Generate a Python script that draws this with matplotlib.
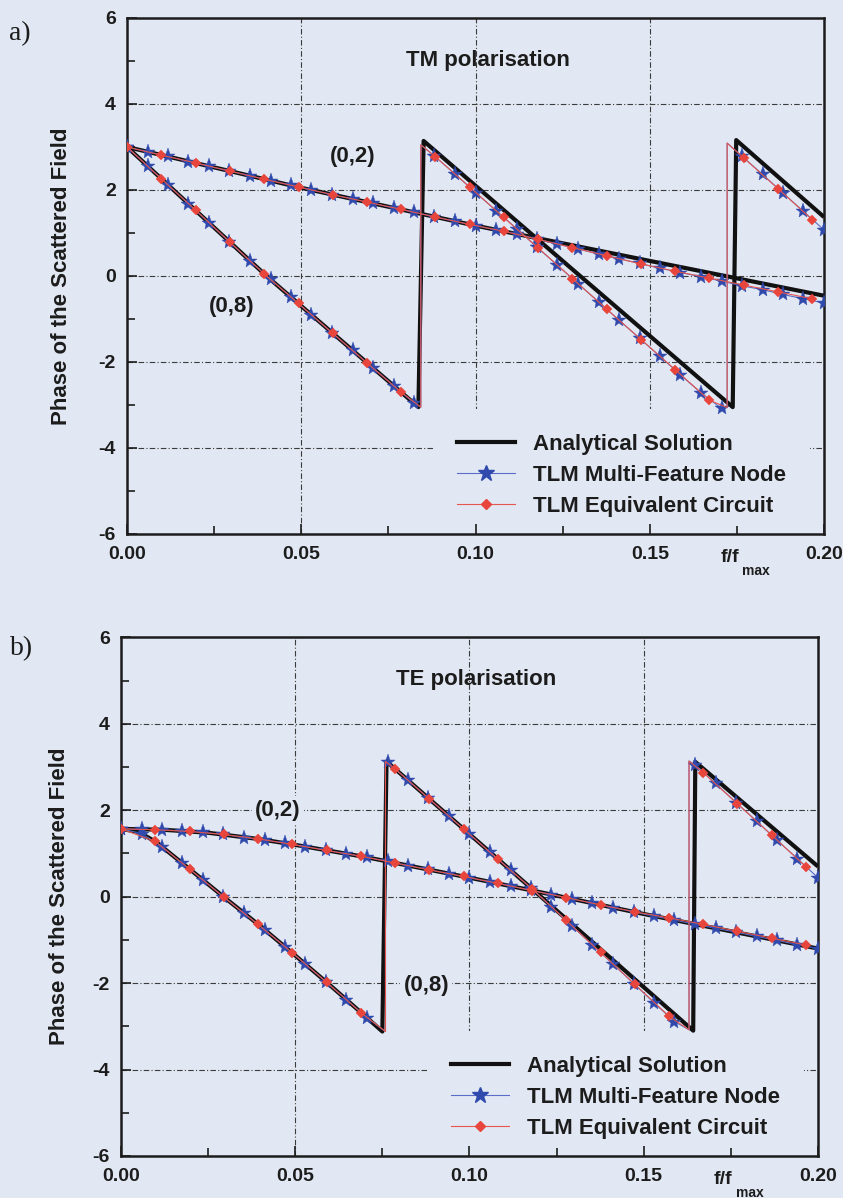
import matplotlib
matplotlib.use("Agg")
import matplotlib.pyplot as plt
from matplotlib.ticker import MultipleLocator, FormatStrFormatter
from matplotlib.lines import Line2D

plt.rcParams['font.family'] = ['Liberation Sans', 'DejaVu Sans']
plt.rcParams['font.weight'] = 'bold'
plt.rcParams['axes.labelweight'] = 'bold'

PAGE = '#e2e8f3'
INK = '#1c1c1c'
BLUE = '#2f49ad'
BLUE_LINE = '#5a6cc8'
RED = '#e8453c'
RED_LINE = '#e4564e'
GRID = '#3c3c3c'

# ---- frequency grids of the two TLM samplings (f / f_max) ----
F_STAR = [0.0, 0.0059, 0.0118, 0.0176, 0.0235, 0.0294, 0.0353, 0.0412, 0.0471,
          0.0529, 0.0588, 0.0647, 0.0706, 0.0765, 0.0824, 0.0882, 0.0941, 0.1000,
          0.1059, 0.1118, 0.1176, 0.1235, 0.1294, 0.1353, 0.1412, 0.1471, 0.1529,
          0.1588, 0.1647, 0.1706, 0.1765, 0.1824, 0.1882, 0.1941, 0.2000]
F_DIAMOND = [0.0, 0.0098, 0.0197, 0.0295, 0.0393, 0.0492, 0.0590, 0.0688, 0.0786,
             0.0885, 0.0983, 0.1081, 0.1180, 0.1278, 0.1376, 0.1475, 0.1573, 0.1671,
             0.1769, 0.1868, 0.1966]

# ---- TM polarisation ----
TM_ANA_02_F = [0.0, 0.05, 0.10, 0.15, 0.20]
TM_ANA_02_P = [3.00, 2.05, 1.17, 0.35, -0.46]
TM_ANA_08_F = [0.0, 0.040, 0.0836, 0.0851, 0.130, 0.1738, 0.1748, 0.20]
TM_ANA_08_P = [3.00, 0.00, -3.05, 3.14, 0.00, -3.05, 3.16, 1.37]

TM_MFN_02 = [3.00, 2.89, 2.78, 2.66, 2.55, 2.44, 2.33, 2.22, 2.11, 2.00, 1.89, 1.79,
             1.69, 1.58, 1.48, 1.38, 1.27, 1.17, 1.07, 0.98, 0.86, 0.74, 0.63, 0.51,
             0.40, 0.29, 0.18, 0.08, -0.02, -0.12, -0.23, -0.32, -0.43, -0.53, -0.63]
TM_EQC_02 = [3.00, 2.81, 2.63, 2.44, 2.25, 2.07, 1.89, 1.72, 1.55, 1.37, 1.20, 1.04,
             0.85, 0.66, 0.47, 0.28, 0.11, -0.05, -0.21, -0.37, -0.53]
TM_MFN_08 = [3.00, 2.56, 2.12, 1.68, 1.24, 0.79, 0.35, -0.08, -0.49, -0.91, -1.32,
             -1.73, -2.14, -2.55, -2.96, 2.79, 2.37, 1.94, 1.52, 1.10, 0.67, 0.25,
             -0.18, -0.60, -1.03, -1.45, -1.87, -2.30, -2.72, -3.08, 2.78, 2.36,
             1.93, 1.50, 1.07]
TM_EQC_08 = [3.00, 2.26, 1.53, 0.79, 0.05, -0.64, -1.33, -2.02, -2.70, 2.77, 2.07,
             1.36, 0.65, -0.06, -0.77, -1.48, -2.18, -2.89, 2.75, 2.03, 1.31]
# phase wraps of the TLM (0,8) results: frequency, value before, value after
TM_WRAP_F = [0.0843, 0.1722]
TM_WRAP_LO = [-3.05, -3.06]
TM_WRAP_HI = [3.05, 3.09]

# ---- TE polarisation ----
TE_ANA_02_F = [0.0, 0.012, 0.025, 0.040, 0.050, 0.060, 0.070, 0.080, 0.100, 0.120,
               0.150, 0.165, 0.200]
TE_ANA_02_P = [1.57, 1.55, 1.48, 1.33, 1.20, 1.06, 0.92, 0.76, 0.44, 0.11, -0.40,
               -0.64, -1.20]
TE_ANA_08_F = [0.0, 0.005, 0.010, 0.020, 0.0294, 0.040, 0.050, 0.060, 0.070, 0.075,
               0.0762, 0.1205, 0.1642, 0.1648, 0.200]
TE_ANA_08_P = [1.57, 1.50, 1.27, 0.62, 0.00, -0.68, -1.36, -2.05, -2.76, -3.12,
               3.13, 0.00, -3.10, 3.12, 0.70]

TE_MFN_02 = [1.57, 1.56, 1.55, 1.52, 1.49, 1.44, 1.37, 1.31, 1.24, 1.16, 1.08, 0.99,
             0.91, 0.82, 0.72, 0.63, 0.53, 0.44, 0.34, 0.25, 0.15, 0.05, -0.05,
             -0.15, -0.25, -0.35, -0.45, -0.54, -0.64, -0.73, -0.82, -0.92, -1.01,
             -1.11, -1.20]
TE_EQC_02 = [1.57, 1.55, 1.51, 1.44, 1.34, 1.21, 1.07, 0.94, 0.78, 0.62, 0.47, 0.31,
             0.14, -0.02, -0.19, -0.35, -0.49, -0.64, -0.80, -0.96, -1.12]
TE_MFN_08 = [1.57, 1.46, 1.16, 0.77, 0.39, 0.00, -0.38, -0.76, -1.16, -1.56, -1.97,
             -2.38, -2.80, 3.11, 2.70, 2.28, 1.86, 1.45, 1.03, 0.62, 0.20, -0.23,
             -0.67, -1.12, -1.56, -2.01, -2.45, -2.89, 3.05, 2.62, 2.18, 1.75, 1.31,
             0.88, 0.44]
TE_EQC_08 = [1.57, 1.28, 0.64, -0.01, -0.64, -1.30, -1.98, -2.68, 2.96, 2.26, 1.57,
             0.87, 0.18, -0.55, -1.29, -2.03, -2.77, 2.87, 2.15, 1.42, 0.69]
TE_WRAP_F = [0.0759, 0.1630]
TE_WRAP_LO = [-3.12, -3.08]
TE_WRAP_HI = [3.13, 3.14]

LEGEND_LABELS = ['Analytical Solution', 'TLM Multi-Feature Node',
                 'TLM Equivalent Circuit']


def with_wraps(freq, phase, wrap_f, wrap_lo, wrap_hi):
    """Merge sampled points with the vertical phase-wrap segments."""
    pts = [(f, 0, p, True) for f, p in zip(freq, phase)]
    for f, lo, hi in zip(wrap_f, wrap_lo, wrap_hi):
        pts.append((f, 0, lo, False))
        pts.append((f, 1, hi, False))
    pts.sort(key=lambda q: (q[0], q[1]))
    xs = [q[0] for q in pts]
    ys = [q[2] for q in pts]
    marks = [i for i, q in enumerate(pts) if q[3]]
    return xs, ys, marks


def draw_panel(ax, ana, mfn, eqc, wrap, title, lab02, lab08, boxed):
    ax.set_facecolor(PAGE)
    for f, p in ana:
        ax.plot(f, p, color='#111111', lw=3.0, zorder=3, solid_capstyle='butt')
    for i, vals in enumerate(mfn):
        if i == 0:
            xs, ys, mk = F_STAR, vals, list(range(len(vals)))
        else:
            xs, ys, mk = with_wraps(F_STAR, vals, *wrap)
        ax.plot(xs, ys, color=BLUE_LINE, lw=0.8, marker='*', ms=11,
                mfc=BLUE, mec=BLUE, mew=0.3, markevery=mk, zorder=4)
    for i, vals in enumerate(eqc):
        if i == 0:
            xs, ys, mk = F_DIAMOND, vals, list(range(len(vals)))
        else:
            xs, ys, mk = with_wraps(F_DIAMOND, vals, *wrap)
        ax.plot(xs, ys, color=RED_LINE, lw=0.8, marker='D', ms=5.2,
                mfc=RED, mec=RED, mew=0.3, markevery=mk, zorder=5)

    ax.set_xlim(0, 0.20)
    ax.set_ylim(-6, 6)
    ax.xaxis.set_major_locator(MultipleLocator(0.05))
    ax.xaxis.set_minor_locator(MultipleLocator(0.025))
    ax.xaxis.set_major_formatter(FormatStrFormatter('%.2f'))
    ax.yaxis.set_major_locator(MultipleLocator(2))
    ax.yaxis.set_minor_locator(MultipleLocator(1))
    ax.yaxis.set_major_formatter(FormatStrFormatter('%d'))
    ax.tick_params(which='both', direction='in', colors=INK, width=1.2,
                   top=False, right=False)
    ax.tick_params(which='major', length=7)
    ax.tick_params(which='minor', length=6)
    ax.tick_params(axis='x', labelsize=14, pad=9)
    ax.tick_params(axis='y', labelsize=14, pad=8)
    ax.xaxis.set_zorder(1.5)
    ax.yaxis.set_zorder(1.5)
    for s in ax.spines.values():
        s.set_linewidth(1.8)
        s.set_color(INK)
        s.set_zorder(2.6)

    # dash-dot grid kept underneath the legend box, ticks stay on top
    grid_style = dict(color=GRID, lw=0.8, linestyle=(0, (5, 2, 1, 2)), zorder=1)
    for gx in ax.get_xticks():
        if 0 < gx < 0.2 - 1e-9:
            ax.axvline(gx, **grid_style)
    for gy in ax.get_yticks():
        if -6 < gy < 6:
            ax.axhline(gy, **grid_style)

    ax.set_ylabel('Phase of the Scattered Field', fontsize=16, color=INK,
                  fontweight='bold')
    ax.text(title[1], title[2], title[0], fontsize=16, color=INK,
            ha='center', va='center', zorder=6)
    bbox = dict(boxstyle='square,pad=0.15', fc=PAGE, ec='none') if boxed else None
    ax.text(lab02[0], lab02[1], '(0,2)', fontsize=16, color=INK,
            ha='center', va='center', bbox=bbox, zorder=2)
    ax.text(lab08[0], lab08[1], '(0,8)', fontsize=16, color=INK,
            ha='center', va='center', bbox=bbox, zorder=2)

    handles = [
        Line2D([], [], color='#111111', lw=3.0),
        Line2D([], [], color=BLUE_LINE, lw=0.8, marker='*', ms=12, mfc=BLUE, mec=BLUE),
        Line2D([], [], color=RED_LINE, lw=0.8, marker='D', ms=5.5, mfc=RED, mec=RED),
    ]
    leg = ax.legend(handles, LEGEND_LABELS, loc='lower right',
                    bbox_to_anchor=(0.98, -0.0136), borderaxespad=0.0,
                    fontsize=16, frameon=True, facecolor=PAGE, edgecolor='none',
                    framealpha=1.0, fancybox=False, handlelength=2.6,
                    handletextpad=0.8, labelspacing=0.45, borderpad=1.1,
                    numpoints=1)
    leg.set_zorder(1.2)
    for t in leg.get_texts():
        t.set_color(INK)

    ax.text(0.851, -0.045, 'f/f', transform=ax.transAxes, fontsize=14,
            color=INK, ha='left', va='center')
    ax.text(0.883, -0.072, 'max', transform=ax.transAxes, fontsize=10,
            color=INK, ha='left', va='center')


fig = plt.figure(figsize=(8.43, 11.98), dpi=100, facecolor=PAGE)

ax1 = fig.add_axes([0.1507, 0.5543, 0.8268, 0.4307])
draw_panel(ax1,
           [(TM_ANA_02_F, TM_ANA_02_P), (TM_ANA_08_F, TM_ANA_08_P)],
           [TM_MFN_02, TM_MFN_08], [TM_EQC_02, TM_EQC_08],
           (TM_WRAP_F, TM_WRAP_LO, TM_WRAP_HI),
           ('TM polarisation', 0.1036, 5.0), (0.0648, 2.77), (0.030, -0.71), False)
ax1.yaxis.set_label_coords(-0.079, 0.5)

ax2 = fig.add_axes([0.1435, 0.0351, 0.8268, 0.4328])
draw_panel(ax2,
           [(TE_ANA_02_F, TE_ANA_02_P), (TE_ANA_08_F, TE_ANA_08_P)],
           [TE_MFN_02, TE_MFN_08], [TE_EQC_02, TE_EQC_08],
           (TE_WRAP_F, TE_WRAP_LO, TE_WRAP_HI),
           ('TE polarisation', 0.102, 5.03), (0.045, 2.0), (0.0876, -2.05), True)
ax2.yaxis.set_label_coords(-0.073, 0.5)

fig.text(0.024, 0.9716, 'a)', family=['Liberation Serif', 'DejaVu Serif'],
         fontweight='normal', fontsize=20, color=INK, ha='center', va='center')
fig.text(0.025, 0.459, 'b)', family=['Liberation Serif', 'DejaVu Serif'],
         fontweight='normal', fontsize=20, color=INK, ha='center', va='center')

fig.savefig('out.png', dpi=100, facecolor=PAGE)
